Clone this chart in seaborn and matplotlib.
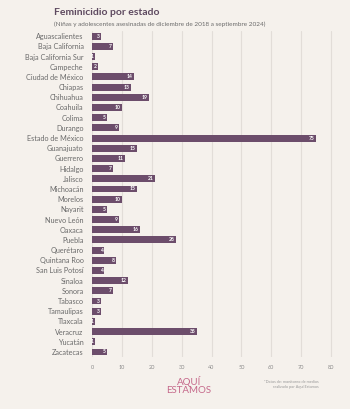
import matplotlib
matplotlib.use("Agg")
import matplotlib.pyplot as plt
import seaborn as sns
import pandas as pd

estados = ["Aguascalientes", "Baja California", "Baja California Sur", "Campeche",
           "Ciudad de México", "Chiapas", "Chihuahua", "Coahuila", "Colima", "Durango",
           "Estado de México", "Guanajuato", "Guerrero", "Hidalgo", "Jalisco",
           "Michoacán", "Morelos", "Nayarit", "Nuevo León", "Oaxaca", "Puebla",
           "Querétaro", "Quintana Roo", "San Luis Potosí", "Sinaloa", "Sonora",
           "Tabasco", "Tamaulipas", "Tlaxcala", "Veracruz", "Yucatán", "Zacatecas"]
casos = [3, 7, 1, 2, 14, 13, 19, 10, 5, 9, 75, 15, 11, 7, 21, 15, 10, 5, 9, 16, 28,
         4, 8, 4, 12, 7, 3, 3, 1, 35, 1, 5]
xticks = [0, 10, 20, 30, 40, 50, 60, 70, 80]

bg = "#f5f1ec"
bar_color = "#6c4d6b"

sns.set_theme(style="white")
plt.rcParams["font.family"] = ["Lato", "DejaVu Sans"]

df = pd.DataFrame({"estado": estados, "casos": casos})

fig = plt.figure(figsize=(3.5, 4.09), dpi=100, facecolor=bg)
ax = fig.add_axes([0.263, 0.127, 0.7, 0.797])
ax.set_facecolor(bg)

sns.barplot(data=df, x="casos", y="estado", orient="h", color=bar_color,
            width=0.68, ax=ax, saturation=1, edgecolor="none")

ax.set_xlim(0, 82)
ax.set_xticks(xticks)
ax.set_xticklabels([str(t) for t in xticks], fontsize=4, color="#8a8a8a")
ax.tick_params(axis="y", labelsize=5.2, labelcolor="#6a6a6a", length=0, pad=6)
ax.tick_params(axis="x", length=0, pad=6)
ax.set_xlabel("")
ax.set_ylabel("")
for s in ax.spines.values():
    s.set_visible(False)
ax.grid(axis="x", color="#e2ddd8", linewidth=0.8)
ax.set_axisbelow(True)

for i, v in enumerate(casos):
    ax.text(v - 0.4, i, str(v), ha="right", va="center", fontsize=3.6,
            color="white", fontweight="bold")

fig.text(0.153, 0.98, "Feminicidio por estado", fontsize=7.5, fontweight="bold",
         color="#5e4a60", ha="left", va="top")
fig.text(0.153, 0.948, "(Niñas y adolescentes asesinadas de diciembre de 2018 a septiembre 2024)",
         fontsize=4.6, color="#6a6a6a", ha="left", va="top")

fig.text(0.54, 0.058, "AQUÍ\nESTAMOS", fontsize=7, color="#c5688a", ha="center",
         va="center", linespacing=0.85)
fig.text(0.91, 0.06, "*Datos de: monitoreo de medios\nrealizado por Aquí Estamos",
         fontsize=2.8, color="#999999", ha="right", va="center")

fig.savefig("out.png", dpi=100, facecolor=bg)
